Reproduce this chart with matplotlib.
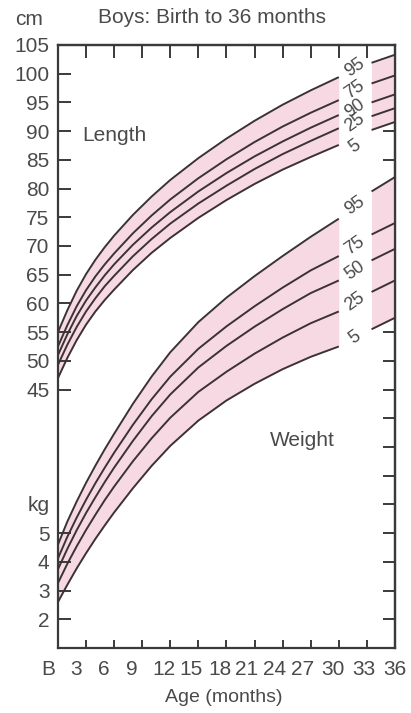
import matplotlib
matplotlib.use("Agg")
import matplotlib.pyplot as plt
import numpy as np
from matplotlib.transforms import ScaledTranslation

plt.rcParams['font.family'] = ['Liberation Sans', 'DejaVu Sans']

# ---- data -------------------------------------------------------------
months = [0, 1, 2, 3, 4, 5, 6, 8, 10, 12, 15, 18, 21, 24, 27, 30]
tail_months = [33.5, 36]

length_names = ["5", "25", "90", "75", "95"]
weight_names = ["5", "25", "50", "75", "95"]

# recumbent length, cm
length_p5 = [47.0, 50.5, 53.6, 56.3, 58.6, 60.6, 62.4, 65.8, 68.8, 71.4, 74.9, 78.0, 80.8, 83.3, 85.5, 87.6]
length_p25 = [49.3, 52.8, 55.9, 58.6, 60.9, 63.0, 64.8, 68.2, 71.2, 73.9, 77.4, 80.5, 83.4, 86.0, 88.3, 90.5]
length_p50 = [51.0, 54.6, 57.8, 60.5, 62.8, 64.9, 66.8, 70.2, 73.2, 75.9, 79.5, 82.7, 85.6, 88.2, 90.6, 92.8]
length_p75 = [52.5, 56.2, 59.5, 62.3, 64.7, 66.8, 68.7, 72.2, 75.3, 78.1, 81.8, 85.1, 88.1, 90.8, 93.2, 95.4]
length_p95 = [55.0, 58.8, 62.2, 65.1, 67.6, 69.8, 71.8, 75.4, 78.6, 81.5, 85.3, 88.7, 91.8, 94.6, 97.1, 99.4]

length_tail_p5 = [90.2, 91.6]
length_tail_p25 = [92.6, 94.0]
length_tail_p50 = [95.0, 96.4]
length_tail_p75 = [98.3, 99.7]
length_tail_p95 = [101.9, 103.3]

# weight, kg
weight_p5 = [2.6, 3.2, 3.77, 4.3, 4.8, 5.27, 5.72, 6.56, 7.34, 8.04, 8.92, 9.62, 10.2, 10.71, 11.14, 11.5]
weight_p25 = [3.26, 3.93, 4.54, 5.11, 5.64, 6.15, 6.62, 7.5, 8.3, 9.02, 9.92, 10.62, 11.25, 11.81, 12.31, 12.72]
weight_p50 = [3.74, 4.45, 5.1, 5.7, 6.25, 6.78, 7.28, 8.21, 9.07, 9.83, 10.77, 11.52, 12.19, 12.8, 13.36, 13.8]
weight_p75 = [4.12, 4.87, 5.54, 6.16, 6.74, 7.28, 7.8, 8.77, 9.66, 10.45, 11.42, 12.2, 12.9, 13.55, 14.15, 14.65]
weight_p95 = [4.6, 5.4, 6.1, 6.75, 7.35, 7.92, 8.46, 9.5, 10.45, 11.3, 12.35, 13.2, 13.95, 14.65, 15.32, 15.95]

weight_tail_p5 = [12.1, 12.5]
weight_tail_p25 = [13.4, 13.8]
weight_tail_p50 = [14.5, 14.9]
weight_tail_p75 = [15.4, 15.8]
weight_tail_p95 = [16.9, 17.4]

cm_ticks = [45, 50, 55, 60, 65, 70, 75, 80, 85, 90, 95, 100, 105]
kg_ticks = [2, 3, 4, 5]
age_ticks = [0, 3, 6, 9, 12, 15, 18, 21, 24, 27, 30, 33, 36]
age_labels = ["B", "3", "6", "9", "12", "15", "18", "21", "24", "27", "30", "33", "36"]


def kg_to_chart(kg):
    """Weight shares the vertical scale: 1 kg per 5 chart units, 1 kg at the floor."""
    return 5.0 * (np.asarray(kg, dtype=float) - 1.0)


# ---- style ------------------------------------------------------------
PINK = "#f7d9e3"
LINE = "#3b3236"
TEXT = "#4a4a4a"
AX = "#3a3a3a"
FS = 15

fig = plt.figure(figsize=(4.11, 7.13), dpi=100)
ax = fig.add_axes([0.141, 0.0912, 0.820, 0.8457])
ax.set_xlim(0, 36)
ax.set_ylim(0, 105)

length_sets = [length_p5, length_p25, length_p50, length_p75, length_p95]
length_tails = [length_tail_p5, length_tail_p25, length_tail_p50, length_tail_p75, length_tail_p95]
weight_sets = [kg_to_chart(w) for w in (weight_p5, weight_p25, weight_p50, weight_p75, weight_p95)]
weight_tails = [kg_to_chart(w) for w in (weight_tail_p5, weight_tail_p25, weight_tail_p50,
                                         weight_tail_p75, weight_tail_p95)]

for sets, tails in ((length_sets, length_tails), (weight_sets, weight_tails)):
    ax.fill_between(months, sets[0], sets[-1], color=PINK, lw=0, zorder=1)
    ax.fill_between(tail_months, tails[0], tails[-1], color=PINK, lw=0, zorder=1)
    for s in sets:
        ax.plot(months, s, color=LINE, lw=1.4, zorder=3, solid_capstyle="butt",
                solid_joinstyle="round")
    for t in tails:
        ax.plot(tail_months, t, color=LINE, lw=1.4, zorder=3, solid_capstyle="butt")

# percentile labels in the gap between the curves and their continuations
length_dy = [-1.6, 0.0, 0.0, 0.4, 0.4]
weight_dy = [0.0, 0.0, 0.0, 0.0, 0.0]
for sets, tails, names, dys in ((length_sets, length_tails, length_names, length_dy),
                                (weight_sets, weight_tails, weight_names, weight_dy)):
    for s, t, name, dy in zip(sets, tails, names, dys):
        ymid = 0.5 * (s[-1] + t[0]) + dy
        ax.text(0.5 * (months[-1] + tail_months[0]), ymid, name, rotation=35,
                ha="center", va="center", fontsize=13, color=TEXT, zorder=4)

ax.text(2.6, 89.3, "Length", fontsize=FS, color=TEXT, va="center", ha="left")
ax.text(22.6, 36.2, "Weight", fontsize=FS, color=TEXT, va="center", ha="left")

# axes frame and ticks
for sp in ax.spines.values():
    sp.set_color(AX)
    sp.set_linewidth(1.6)

ytick_pos = list(cm_ticks) + list(kg_to_chart(kg_ticks))
ytick_lab = [str(v) for v in cm_ticks] + [str(v) for v in kg_ticks]
ax.set_yticks(ytick_pos)
ax.set_yticklabels(ytick_lab)
ax.set_xticks(age_ticks)
ax.set_xticklabels(age_labels)
ax.tick_params(axis="y", direction="in", length=9, width=1.4, color=AX,
               labelsize=FS, labelcolor=TEXT, pad=6)
ax.tick_params(axis="x", direction="in", length=6, width=1.4, color=AX,
               labelsize=FS, labelcolor=TEXT, pad=9)

label_shift_px = [-10, -10, -10, -10, -6, -7, -6, -8, -8, -8, -6, -3, 0]
for lab, dx in zip(ax.get_xticklabels(), label_shift_px):
    lab.set_transform(lab.get_transform() + ScaledTranslation(dx / 100, 0, fig.dpi_scale_trans))

top = ax.secondary_xaxis("top")
top.set_xticks(age_ticks[1:-1])
top.tick_params(direction="in", length=9, width=1.4, color=AX, labeltop=False)
top.spines["top"].set_color(AX)
top.spines["top"].set_linewidth(1.6)

right = ax.secondary_yaxis("right")
right.set_yticks(list(range(5, 101, 5)))
right.tick_params(direction="in", length=9, width=1.4, color=AX, labelright=False)
right.spines["right"].set_color(AX)
right.spines["right"].set_linewidth(1.6)

fig.text(0.036, 0.965, "cm", fontsize=FS, color=TEXT, ha="left", va="baseline")
fig.text(0.068, 0.284, "kg", fontsize=FS, color=TEXT, ha="left", va="baseline")
fig.text(0.516, 0.968, "Boys: Birth to 36 months", fontsize=FS, color=TEXT,
         ha="center", va="baseline")
fig.text(0.545, 0.0224, "Age (months)", fontsize=14, color=TEXT, ha="center", va="center")

fig.savefig("out.png", dpi=100)
